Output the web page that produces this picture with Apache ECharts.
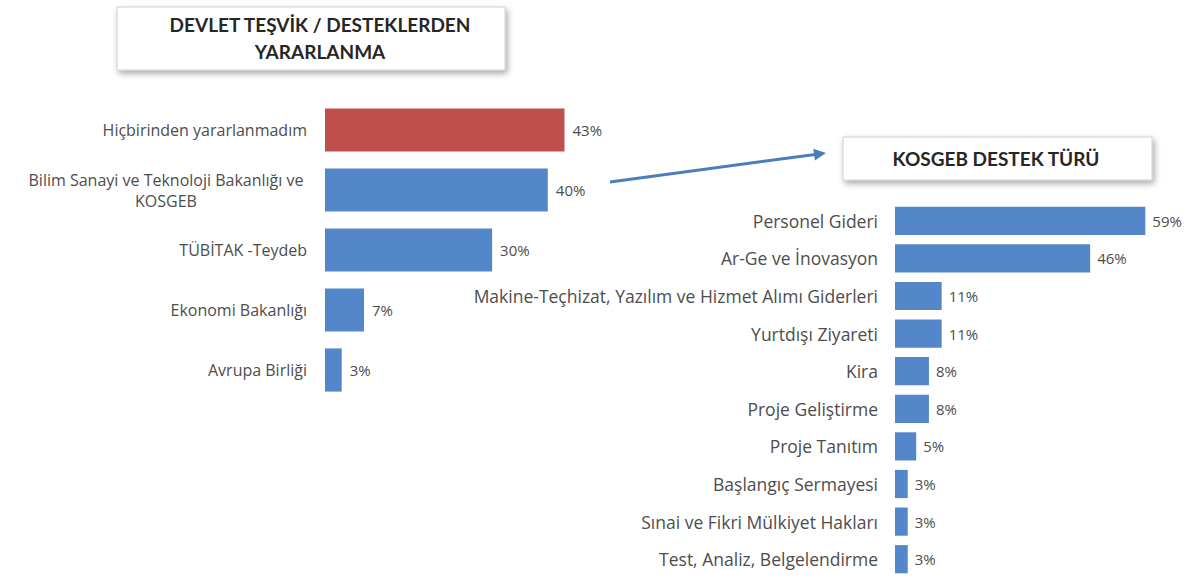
<!DOCTYPE html>
<html>
<head>
<meta charset="utf-8">
<script src="https://cdn.jsdelivr.net/npm/echarts@6/dist/echarts.min.js"></script>
<style>
html,body{margin:0;padding:0;background:#fff;}
#chart{width:1199px;height:579px;}
</style>
</head>
<body>
<div id="chart"></div>
<script>
const leftTitle = 'DEVLET TEŞVİK / DESTEKLERDEN\nYARARLANMA';
const rightTitle = 'KOSGEB DESTEK TÜRÜ';
const leftCategories = ['Hiçbirinden yararlanmadım', 'Bilim Sanayi ve Teknoloji Bakanlığı ve\nKOSGEB', 'TÜBİTAK -Teydeb', 'Ekonomi Bakanlığı', 'Avrupa Birliği'];
const leftValues = [43, 40, 30, 7, 3];
const rightCategories = ['Personel Gideri', 'Ar-Ge ve İnovasyon', 'Makine-Teçhizat, Yazılım ve Hizmet Alımı Giderleri', 'Yurtdışı Ziyareti', 'Kira', 'Proje Geliştirme', 'Proje Tanıtım', 'Başlangıç Sermayesi', 'Sınai ve Fikri Mülkiyet Hakları', 'Test, Analiz, Belgelendirme'];
const rightValues = [59, 46, 11, 11, 8, 8, 5, 3, 3, 3];

const RED = '#C0504D', BLUE = '#5387CA', TXT = '#4d4d4d';
const FONT = 'Open Sans';

const chart = echarts.init(document.getElementById('chart'), null, {renderer: 'svg'});

const hideAxis = {axisLine:{show:false}, axisTick:{show:false}, splitLine:{show:false}};

chart.setOption({
  animation: false,
  backgroundColor: '#fff',
  grid: [
    {left: 325, top: 100, width: 278.5, height: 300},
    {left: 895, top: 202, width: 297, height: 376}
  ],
  xAxis: [
    Object.assign({type:'value', gridIndex:0, min:0, max:50, axisLabel:{show:false}}, hideAxis),
    Object.assign({type:'value', gridIndex:1, min:0, max:70, axisLabel:{show:false}}, hideAxis)
  ],
  yAxis: [
    Object.assign({type:'category', gridIndex:0, inverse:true, data:leftCategories,
      axisLabel:{color:TXT, fontFamily:FONT, fontSize:16, margin:18,
        formatter: v => v.indexOf('\n') >= 0 ? v.split('\n').map(s => '{c|' + s + '}').join('\n') : v,
        rich:{c:{width:282, align:'center', fontFamily:FONT, fontSize:16, color:TXT, lineHeight:21}}}}, hideAxis),
    Object.assign({type:'category', gridIndex:1, inverse:true, data:rightCategories,
      axisLabel:{color:TXT, fontFamily:FONT, fontSize:17.5, margin:17}}, hideAxis)
  ],
  series: [
    {type:'bar', xAxisIndex:0, yAxisIndex:0, barCategoryGap:'28%',
      data: leftValues.map((v,i)=>({value:v, itemStyle:{color: i===0?RED:BLUE}})),
      label:{show:true, position:'right', distance:8, formatter:'{c}%', color:TXT, fontFamily:FONT, fontSize:15}},
    {type:'bar', xAxisIndex:1, yAxisIndex:1, barCategoryGap:'25%',
      data: rightValues, itemStyle:{color:BLUE},
      label:{show:true, position:'right', distance:7, formatter:'{c}%', color:TXT, fontFamily:FONT, fontSize:15}}
  ],
  graphic: [
    {type:'rect', shape:{x:117, y:7, width:388, height:63},
      style:{fill:'#fff', stroke:'#d0d0d0', lineWidth:1, shadowBlur:6, shadowOffsetX:2, shadowOffsetY:3, shadowColor:'rgba(0,0,0,0.35)'}},
    {type:'text', x:320, y:11, style:{text:leftTitle, textAlign:'center', fill:'#262626', font:'bold 19px Lato', lineHeight:27}},
    {type:'rect', shape:{x:843, y:137, width:309, height:43},
      style:{fill:'#fff', stroke:'#d0d0d0', lineWidth:1, shadowBlur:6, shadowOffsetX:2, shadowOffsetY:3, shadowColor:'rgba(0,0,0,0.35)'}},
    {type:'text', x:996, y:158, style:{text:rightTitle, textAlign:'center', textVerticalAlign:'middle', fill:'#262626', font:'bold 19px Lato'}},
    {type:'line', shape:{x1:610, y1:182, x2:815, y2:154.5}, style:{stroke:'#4A7EBB', lineWidth:3}},
    {type:'polygon', shape:{points:[[826,153],[814.9,160.5],[813.3,148.7]]}, style:{fill:'#4A7EBB'}}
  ]
});
</script>
</body>
</html>
